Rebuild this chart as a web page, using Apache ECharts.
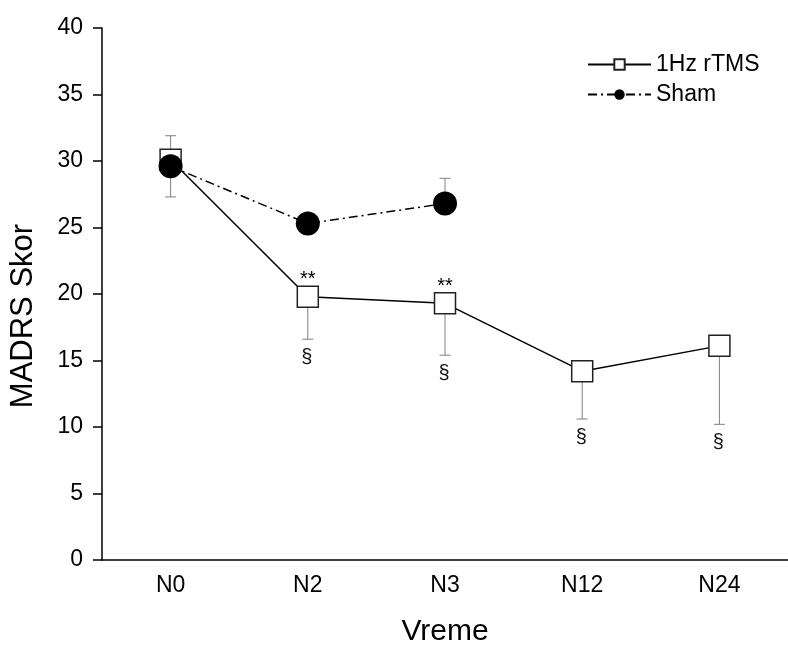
<!DOCTYPE html>
<html>
<head>
<meta charset="utf-8">
<script src="https://cdn.jsdelivr.net/npm/echarts@6/dist/echarts.min.js"></script>
<style>
  html, body { margin: 0; padding: 0; background: #fff; }
  #chart { width: 788px; height: 652px; }
</style>
</head>
<body>
<div id="chart"></div>
<script>
  // values
  let categories = ['N0', 'N2', 'N3', 'N12', 'N24'];
  let rtms = [30.1, 19.8, 19.3, 14.2, 16.1];
  let rtmsLow = [27.3, 16.6, 15.4, 10.6, 10.2];
  let sham = [29.6, 25.3, 26.8, null, null];
  let shamHigh = [31.9, null, 28.7, null, null];
  let starsAt = [1, 2];
  let sectionAt = [1, 2, 3, 4];

  let font = 'Liberation Sans, Arial, sans-serif';
  let chart = echarts.init(document.getElementById('chart'));

  // one-sided error bars: [index, from, to]
  let rtmsErr = rtms.map((v, i) => [i, v, rtmsLow[i]]);
  let shamErr = [];
  sham.forEach((v, i) => {
    if (v != null && shamHigh[i] != null) shamErr.push([i, v, shamHigh[i]]);
  });

  let errorBar = (params, api) => {
    let p0 = api.coord([api.value(0), api.value(1)]);
    let p1 = api.coord([api.value(0), api.value(2)]);
    let st = { stroke: '#808080', lineWidth: 1 };
    return {
      type: 'group',
      children: [
        { type: 'line', shape: { x1: p0[0], y1: p0[1], x2: p1[0], y2: p1[1] }, style: st },
        { type: 'line', shape: { x1: p1[0] - 5.5, y1: p1[1], x2: p1[0] + 5.5, y2: p1[1] }, style: st }
      ]
    };
  };

  let starData = starsAt.map((i) => [i, rtms[i]]);
  let sectionData = sectionAt.map((i) => [i, rtmsLow[i]]);

  let option = {
    animation: false,
    grid: { left: 102, right: -8, top: 28, bottom: 89 },
    legend: {
      orient: 'vertical',
      left: 587,
      top: 53,
      padding: 0,
      itemWidth: 63,
      itemHeight: 13,
      itemGap: 7,
      textStyle: { fontSize: 23, fontFamily: font, color: '#000' },
      data: ['1Hz rTMS', 'Sham']
    },
    graphic: [
      {
        type: 'text',
        x: 23,
        y: 316,
        rotation: Math.PI / 2,
        style: {
          text: 'MADRS Skor',
          fontSize: 31,
          fontFamily: font,
          fill: '#000',
          textAlign: 'center',
          textVerticalAlign: 'middle'
        }
      }
    ],
    xAxis: {
      type: 'category',
      data: categories,
      name: 'Vreme',
      nameLocation: 'middle',
      nameGap: 57,
      nameTextStyle: { fontSize: 30, fontFamily: font, color: '#000' },
      axisLine: { lineStyle: { color: '#000', width: 1.5 } },
      axisTick: { alignWithLabel: true, length: 9, lineStyle: { color: '#000', width: 1.5 } },
      axisLabel: { fontSize: 23, fontFamily: font, color: '#000', margin: 14 },
      splitLine: { show: false }
    },
    yAxis: {
      type: 'value',
      min: 0,
      max: 40,
      interval: 5,
      axisLine: { show: true, lineStyle: { color: '#000', width: 1.5 } },
      axisTick: { show: true, length: 9, lineStyle: { color: '#000', width: 1.5 } },
      axisLabel: { fontSize: 23, fontFamily: font, color: '#000', margin: 19 },
      splitLine: { show: false }
    },
    series: [
      {
        type: 'custom',
        name: 'rtmsErr',
        renderItem: errorBar,
        data: rtmsErr,
        z: 1,
        silent: true
      },
      {
        type: 'custom',
        name: 'shamErr',
        renderItem: errorBar,
        data: shamErr,
        z: 1,
        silent: true
      },
      {
        type: 'line',
        name: '1Hz rTMS',
        data: rtms,
        symbol: 'rect',
        symbolSize: 21,
        lineStyle: { color: '#000', width: 1.5 },
        itemStyle: { color: '#fff', borderColor: '#222', borderWidth: 1.5 },
        z: 3
      },
      {
        type: 'line',
        name: 'Sham',
        data: sham,
        connectNulls: false,
        symbol: 'circle',
        symbolSize: 24,
        lineStyle: { color: '#000', width: 1.5, type: [9, 4, 2, 4] },
        itemStyle: { color: '#000' },
        z: 4
      },
      {
        type: 'custom',
        name: 'stars',
        data: starData,
        z: 5,
        silent: true,
        renderItem: (params, api) => {
          let p = api.coord([api.value(0), api.value(1)]);
          return {
            type: 'text',
            x: p[0],
            y: p[1] - 7,
            style: {
              text: '**',
              fontSize: 20,
              fontFamily: font,
              fill: '#000',
              textAlign: 'center',
              textVerticalAlign: 'bottom'
            }
          };
        }
      },
      {
        type: 'custom',
        name: 'section',
        data: sectionData,
        z: 5,
        silent: true,
        renderItem: (params, api) => {
          let p = api.coord([api.value(0), api.value(1)]);
          return {
            type: 'text',
            x: p[0] - 1,
            y: p[1] + 8,
            style: {
              text: '§',
              fontSize: 20,
              fontFamily: font,
              fill: '#111',
              textAlign: 'center',
              textVerticalAlign: 'top'
            }
          };
        }
      }
    ]
  };

  chart.setOption(option);
</script>
</body>
</html>
